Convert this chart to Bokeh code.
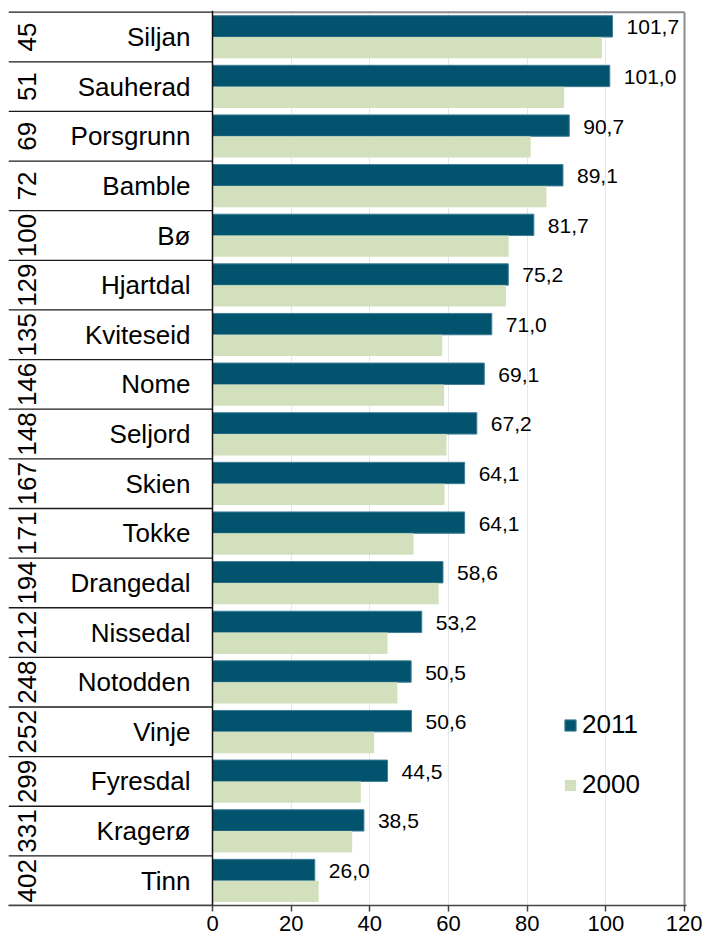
from bokeh.plotting import figure
from bokeh.models import Range1d, FixedTicker, Span, Legend, LegendItem, ColumnDataSource
from bokeh.core.properties import value
from bokeh.embed import file_html
from bokeh.resources import INLINE
import math

# ---- data ----
ranks = ["45", "51", "69", "72", "100", "129", "135", "146", "148", "167",
         "171", "194", "212", "248", "252", "299", "331", "402"]
names = ["Siljan", "Sauherad", "Porsgrunn", "Bamble", "Bø", "Hjartdal", "Kviteseid",
         "Nome", "Seljord", "Skien", "Tokke", "Drangedal", "Nissedal", "Notodden",
         "Vinje", "Fyresdal", "Kragerø", "Tinn"]
v2011 = [101.7, 101.0, 90.7, 89.1, 81.7, 75.2, 71.0, 69.1, 67.2, 64.1, 64.1,
         58.6, 53.2, 50.5, 50.6, 44.5, 38.5, 26.0]
v2000 = [99.0, 89.4, 80.9, 84.9, 75.3, 74.6, 58.4, 58.9, 59.5, 59.0, 51.1,
         57.5, 44.5, 47.0, 41.1, 37.7, 35.5, 27.0]
series = ["2011", "2000"]
xticks = [0, 20, 40, 60, 80, 100, 120]

C2011 = "#02536D"
C2000 = "#D3E0BD"
FONT = value("Liberation Sans")

W, H = 702, 939
BL, BR, BT, BB = 8, 16, 10, 34
XMAX = 120
PX_PER_UNIT = 472 / XMAX
FRAME_W = W - BL - BR
X_LEFT = -204 / PX_PER_UNIT
X_RIGHT = (FRAME_W - 204) / PX_PER_UNIT

n = len(names)
pos = [n - 1 - i for i in range(n)]
OFF = 0.215
BH = 0.43

src = ColumnDataSource(dict(
    pos=pos,
    y11=[p + OFF for p in pos],
    y00=[p - OFF for p in pos],
    v2011=v2011,
    v2000=v2000,
    lab=[f"{v:.1f}".replace(".", ",") for v in v2011],
    names=names,
    ranks=ranks,
    zero=[0] * n,
))

p = figure(width=W, height=H, output_backend="svg", toolbar_location=None,
           x_range=Range1d(X_LEFT, X_RIGHT),
           y_range=Range1d(-0.5, n - 0.5 + 1.7 / 49.6),
           y_axis_location=None, x_axis_location="below",
           min_border_left=BL, min_border_right=BR, min_border_top=BT,
           min_border_bottom=BB)
p.outline_line_color = None
p.background_fill_color = "white"
p.border_fill_color = "white"

# grid
p.ygrid.visible = False
p.xgrid.ticker = FixedTicker(ticks=xticks[1:-1])
p.xgrid.grid_line_color = "#e2e8ea"
p.xgrid.grid_line_width = 1

# x axis
ax = p.xaxis[0]
ax.ticker = FixedTicker(ticks=xticks)
ax.axis_line_color = "#444444"
ax.axis_line_width = 1.5
ax.major_tick_line_color = "#444444"
ax.major_tick_line_width = 1.5
ax.major_tick_out = 6
ax.major_tick_in = 0
ax.minor_tick_line_color = None
ax.major_label_standoff = 4
ax.major_label_text_font = "Liberation Sans"
ax.major_label_text_font_size = "22px"
ax.major_label_text_color = "black"

# bars
r11 = p.hbar(y="y11", right="v2011", left=0, height=BH, source=src,
             fill_color=C2011, line_color="#3f7f96", line_width=1)
r00 = p.hbar(y="y00", right="v2000", left=0, height=BH, source=src,
             fill_color=C2000, line_color=None)

# value labels
p.text(x="v2011", y="y11", text="lab", source=src, x_offset=14, y_offset=1,
       text_align="left", text_baseline="middle", text_font=FONT,
       text_font_size="21px", text_color="black")

# category labels
p.text(x="zero", y="pos", text="names", source=src, x_offset=-22,
       text_align="right", text_baseline="middle", text_font=FONT,
       text_font_size="26px", text_color="black")
p.text(x="zero", y="pos", text="ranks", source=src, x_offset=-186,
       angle=math.pi / 2, text_align="center", text_baseline="middle",
       text_font=FONT, text_font_size="26px", text_color="black")

# separators in the label area
bounds = [k - 0.5 for k in range(n + 1)]
p.segment(x0=[X_LEFT] * len(bounds), x1=[0] * len(bounds), y0=bounds, y1=bounds,
          line_color="#1a1a1a", line_width=1.3)

# frame: top and right in gray, left axis in black
p.segment(x0=[0], x1=[XMAX], y0=[n - 0.5], y1=[n - 0.5],
          line_color="#8c8c8c", line_width=2)
p.segment(x0=[XMAX], x1=[XMAX], y0=[-0.5], y1=[n - 0.5],
          line_color="#8c8c8c", line_width=2)
p.add_layout(Span(location=0, dimension="height", line_color="#111111",
                  line_width=1.5))

legend = Legend(items=[LegendItem(label=series[0], renderers=[r11]),
                       LegendItem(label=series[1], renderers=[r00])],
                location=(555, 105), orientation="vertical",
                glyph_width=14, glyph_height=14, label_height=30,
                label_standoff=5, spacing=29, padding=0, margin=0,
                border_line_color=None, background_fill_alpha=0,
                label_text_font="Liberation Sans", label_text_font_size="26px",
                label_text_color="black")
p.add_layout(legend, "center")

open("out.html", "w").write(file_html(p, INLINE))
